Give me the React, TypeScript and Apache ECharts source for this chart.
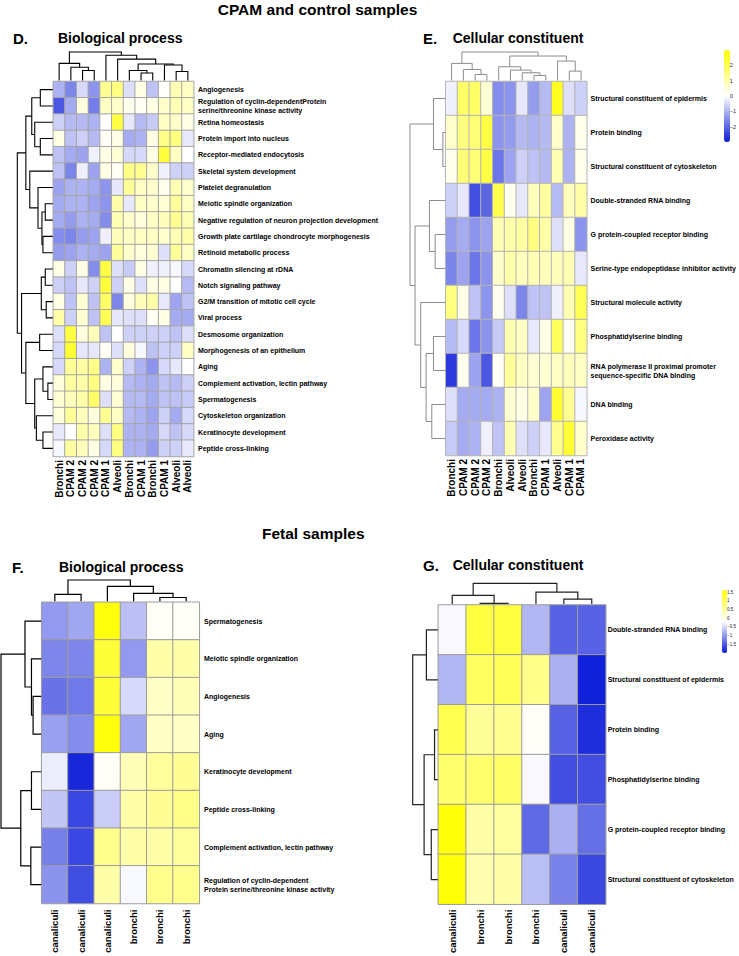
import React, { useEffect, useRef } from 'react';
import * as echarts from 'echarts';

const FONT = '"Liberation Sans", Arial, Helvetica, sans-serif';
const RAMP = ['#0a1ad8', '#ffffff', '#ffff00'];

// ---------- Panel D : CPAM / control, Biological process ----------
const dCols = ['Bronchi', 'CPAM 2', 'CPAM 2', 'CPAM 2', 'CPAM 1', 'Alveoli', 'Bronchi', 'CPAM 1', 'Bronchi', 'CPAM 1', 'Alveoli', 'Alveoli'];
const dRows = [
  'Angiogenesis',
  'Regulation of cyclin-dependentProtein\nserine/threonine kinase activity',
  'Retina homeostasis',
  'Protein import into nucleus',
  'Receptor-mediated endocytosis',
  'Skeletal system development',
  'Platelet degranulation',
  'Meiotic spindle organization',
  'Negative regulation of neuron projection development',
  'Growth plate cartilage chondrocyte morphogenesis',
  'Retinoid metabolic process',
  'Chromatin silencing at rDNA',
  'Notch signaling pathway',
  'G2/M transition of mitotic cell cycle',
  'Viral process',
  'Desmosome organization',
  'Morphogenesis of an epithelium',
  'Aging',
  'Complement activation, lectin pathway',
  'Spermatogenesis',
  'Cytoskeleton organization',
  'Keratinocyte development',
  'Peptide cross-linking',
];
const dValues = [
  [-1.0, -1.6, -0.5, -1.4, 1.3, 1.5, -0.4, 0.3, -0.8, 0.05, 0.9, 0.7],
  [-2.2, -1.1, 0.4, -1.7, 0.7, 0.6, 0.2, 0.1, 0.3, 0.6, 0.9, 0.7],
  [-0.6, -0.9, -0.9, -1.0, 0.0, 2.2, -0.3, -0.9, -0.7, 0.7, 0.6, 0.3],
  [0.3, -0.8, -0.6, -0.9, 0.1, 0.3, -1.1, -1.0, 0.3, 1.4, 1.5, -0.3],
  [-0.8, -1.1, -1.2, -0.2, 0.3, 0.5, -0.5, -0.5, 0.3, 2.3, 0.7, 0.0],
  [-0.8, -1.6, -0.2, -1.2, 0.3, 0.1, 1.4, 1.3, 0.6, -0.2, -0.6, -0.6],
  [-1.2, -1.0, -1.0, -1.1, -1.4, -0.3, 1.2, 0.7, 0.6, 0.2, 0.9, 0.6],
  [-1.1, -1.0, -1.0, -1.2, -1.4, 1.0, -0.3, 0.7, 0.6, 0.5, 1.2, 0.7],
  [-1.1, -1.3, -1.0, -1.1, -1.5, 0.9, 0.6, 0.4, 0.7, 0.8, 1.3, 0.9],
  [-1.5, -1.6, -1.3, -1.2, -0.2, 0.8, 0.7, 0.7, 0.7, 0.6, 0.9, 1.0],
  [-1.3, -1.2, -1.0, -1.1, -1.2, 1.2, 0.6, 0.4, 0.5, -0.4, 1.2, 0.7],
  [0.3, -0.6, 0.3, -1.5, 2.2, -0.4, -0.7, 0.3, -0.2, -0.2, -0.1, -0.5],
  [-0.6, -0.8, -0.3, -0.6, 2.3, -0.6, 0.3, -0.4, 0.3, 0.3, 0.0, -0.9],
  [0.3, -0.8, 0.5, -0.8, 1.8, -1.6, 0.4, 0.8, 1.0, -0.3, -1.2, -0.8],
  [1.0, -0.6, 0.5, -0.8, 2.0, -0.3, -0.4, -0.4, 0.1, 0.3, -1.1, -1.1],
  [-0.4, 2.2, 0.4, 0.8, -0.8, 0.0, -0.6, -0.6, -0.6, -0.6, -0.8, -0.4],
  [-0.5, 2.4, -0.3, -0.3, 0.1, -0.4, 0.4, -0.1, -0.8, -0.6, -0.6, 0.7],
  [-0.5, 1.2, 1.1, 1.4, -1.0, 0.6, -0.6, -1.0, -1.4, -0.5, -0.3, 0.0],
  [0.4, 1.1, 1.0, 1.5, 0.3, 0.4, -0.9, -1.0, -1.1, -0.8, -0.9, -0.6],
  [0.5, 0.8, 1.0, 1.8, -0.4, 0.5, -0.9, -0.9, -1.1, -0.8, -0.8, -0.7],
  [0.4, 1.2, 0.8, 0.4, 1.3, 0.7, -0.9, -1.0, -1.2, -0.6, -1.1, -0.5],
  [-0.3, 0.0, 1.0, 0.8, -0.4, 1.5, -1.0, -1.0, -1.1, -0.5, -0.8, -0.5],
  [-0.1, 1.1, 0.8, 0.3, -0.5, 1.5, -1.0, -1.0, -1.3, -0.6, -0.6, -0.3],
];
// merges: [a, b, height]; negative = leaf (display order, 1-based), positive = earlier merge (1-based)
const dColMerges = [
  [-3, -4, 31], [-2, 1, 41], [-1, 2, 53], [-8, -9, 23], [-7, 4, 31], [-11, -12, 28],
  [-10, 6, 48], [5, 7, 51], [-6, 8, 66], [-5, 9, 78], [3, 10, 88],
];
const dRowMerges = [
  [-1, -2, 38], [-4, -5, 38], [-3, 2, 55], [1, 3, 64], [-8, -9, 23], [-10, -11, 30],
  [5, 6, 33], [-7, 7, 45], [-6, 8, 70], [4, 9, 82], [-12, -13, 23], [-14, -15, 20],
  [11, 12, 35], [-16, -17, 40], [-19, -20, 15], [-18, 15, 30], [-22, -23, 30], [-21, 17, 50],
  [16, 18, 55], [14, 19, 82], [13, 20, 95], [10, 21, 108],
];

// ---------- Panel E : CPAM / control, Cellular constituent ----------
const eCols = ['Bronchi', 'CPAM 2', 'CPAM 2', 'CPAM 2', 'Bronchi', 'Alveoli', 'Alveoli', 'Bronchi', 'CPAM 1', 'Alveoli', 'CPAM 1', 'CPAM 1'];
const eRows = [
  'Structural constituent of epidermis',
  'Protein binding',
  'Structural constituent of cytoskeleton',
  'Double-stranded RNA binding',
  'G protein-coupled receptor binding',
  'Serine-type endopeptidase inhibitor activity',
  'Structural molecule activity',
  'Phosphatidylserine binding',
  'RNA polymerase II proximal promoter\nsequence-specific DNA binding',
  'DNA binding',
  'Peroxidase activity',
];
const eValues = [
  [-0.2, 1.8, 1.8, 0.5, -1.5, -1.4, -0.3, -1.3, -0.9, 2.6, -0.4, -0.6],
  [0.6, 1.5, 1.6, 2.2, -1.4, -1.3, -0.9, -1.0, -0.9, 0.6, -1.0, 0.2],
  [0.2, 1.6, 1.6, 2.2, -1.8, -1.2, -0.6, -0.8, -0.9, 0.9, -1.0, 0.2],
  [-0.6, -0.3, -2.3, -2.0, 2.1, 0.2, -0.3, 0.8, 1.1, -0.9, 0.8, 1.0],
  [-1.3, -1.1, -1.4, -1.2, 0.9, 1.0, 1.1, 1.5, 1.0, -0.4, 0.3, -1.4],
  [-1.6, -1.2, -1.8, -1.4, 0.6, 1.0, 0.8, 0.9, 0.8, 0.8, 0.9, -0.3],
  [1.5, 0.3, -0.8, -1.4, 0.2, -0.4, -1.6, -0.8, -0.8, -0.2, 0.9, 2.0],
  [-0.9, -0.5, -1.8, -1.4, -0.7, 0.9, 0.7, -0.3, 0.3, 1.9, 0.1, 1.5],
  [-2.6, 0.2, -1.2, -2.2, 0.1, 1.2, 0.7, 0.5, 0.5, 0.7, 0.8, 0.7],
  [-0.4, -1.1, -1.1, -1.1, -1.0, 0.5, 0.3, 0.6, -1.2, 2.4, 1.3, -0.1],
  [-0.7, -1.1, -1.0, -0.2, -0.8, 0.9, -0.4, -0.6, -0.3, 1.3, 2.4, 0.6],
];
const eColMerges = [
  [-3, -4, 18], [-2, 1, 33], [-1, 2, 51], [-8, -9, 15], [-7, 4, 23], [-6, 5, 31],
  [-5, 6, 41], [-11, -12, 28], [-10, 8, 58], [7, 9, 73], [3, 10, 85],
];
const eRowMerges = [
  [-2, -3, 7], [-1, 1, 35], [-5, -6, 30], [-4, 3, 47], [-8, -9, 35], [-10, -11, 40],
  [5, 6, 57], [-7, 7, 73], [4, 8, 90], [2, 9, 105],
];
const eLegendTicks = [-2, 2, 1];

// ---------- Panel F : Fetal, Biological process ----------
const fCols = ['canaliculi', 'canaliculi', 'canaliculi', 'bronchi', 'bronchi', 'bronchi'];
const fRows = [
  'Spermatogenesis',
  'Meiotic spindle organization',
  'Angiogenesis',
  'Aging',
  'Keratinocyte development',
  'Peptide cross-linking',
  'Complement activation, lectin pathway',
  'Regulation of cyclin-dependent\nProtein serine/threonine kinase activity',
];
const fValues = [
  [-0.8, -0.7, 1.7, -0.5, 0.05, 0.05],
  [-0.95, -0.95, 1.4, -0.8, 0.6, 0.6],
  [-1.1, -1.05, 1.4, -0.3, 0.4, 0.5],
  [-0.75, -0.9, 1.7, -0.7, 0.4, 0.4],
  [-0.15, -1.7, 0.05, 0.5, 0.7, 0.75],
  [-0.45, -1.45, -0.4, 0.6, 0.75, 0.85],
  [-1.0, -1.45, 0.8, 0.6, 0.6, 0.7],
  [-0.85, -1.4, 0.6, -0.05, 0.8, 0.8],
];
const fColMerges = [[-1, -2, 22], [-5, -6, 12], [-4, 2, 25], [-3, 3, 47], [1, 4, 67]];
const fRowMerges = [[-3, -4, 25], [-2, 1, 30], [-1, 2, 50], [-5, -6, 30], [-7, -8, 32], [4, 5, 63], [3, 6, 124]];

// ---------- Panel G : Fetal, Cellular constituent ----------
const gCols = ['canaliculi', 'bronchi', 'bronchi', 'bronchi', 'canaliculi', 'canaliculi'];
const gRows = [
  'Double-stranded RNA binding',
  'Structural constituent of epidermis',
  'Protein binding',
  'Phosphatidylserine binding',
  'G protein-coupled receptor binding',
  'Structural constituent of cytoskeleton',
];
const gValues = [
  [-0.05, 1.3, 1.3, -0.55, -1.2, -1.2],
  [-0.55, 1.1, 1.15, 0.8, -0.6, -1.7],
  [1.2, 0.7, 0.75, 0.05, -1.2, -1.6],
  [1.0, 1.0, 1.05, -0.05, -1.35, -1.35],
  [1.7, 0.6, 0.65, -1.15, -0.6, -1.1],
  [1.7, 0.55, 0.6, -0.5, -0.95, -1.4],
];
const gColMerges = [[-2, -3, 2], [-1, 1, 27], [-5, -6, 15], [-4, 3, 37], [2, 4, 65]];
const gRowMerges = [[-1, -2, 35], [-3, -4, 10], [-5, -6, 20], [2, 3, 42], [1, 4, 77]];
const gLegendTicks = [-1.5, 1.5, 0.5];

// ---------- helpers ----------
function dendroSegments(merges: number[][]) {
  const pos: number[] = [];
  const hts: number[] = [];
  const out: number[][] = [];
  merges.forEach(([a, b, h], k) => {
    const pa = a < 0 ? -a - 0.5 : pos[a - 1];
    const ha = a < 0 ? 0 : hts[a - 1];
    const pb = b < 0 ? -b - 0.5 : pos[b - 1];
    const hb = b < 0 ? 0 : hts[b - 1];
    pos[k] = (pa + pb) / 2;
    hts[k] = h;
    out.push([pa, ha, pb, hb, h]);
  });
  return out;
}
const rootHeight = (m: number[][]) => m[m.length - 1][2];
const minus = (v: any) => String(v).replace('-', '\u2212');

function buildOption() {
  const grid: any[] = [];
  const xAxis: any[] = [];
  const yAxis: any[] = [];
  const series: any[] = [];
  const visualMap: any[] = [];
  const hidden = { show: false };

  function addPanel(p: any) {
    // heatmap
    let gi = grid.length;
    grid.push({ left: p.hm.left, top: p.hm.top, width: p.hm.width, height: p.hm.height });
    xAxis.push({
      type: 'category', gridIndex: gi, data: p.cols, position: 'bottom',
      axisLine: hidden, axisTick: hidden, splitLine: hidden,
      axisLabel: { interval: 0, rotate: 90, fontSize: p.colFont, fontWeight: 'bold', fontFamily: FONT, color: '#000', margin: p.colMargin },
    });
    yAxis.push({
      type: 'category', gridIndex: gi, data: p.rows, inverse: true, position: 'right',
      axisLine: hidden, axisTick: hidden, splitLine: hidden,
      axisLabel: { interval: 0, fontSize: 7, fontWeight: 'bold', fontFamily: FONT, color: '#000', margin: p.rowMargin, lineHeight: 9 },
    });
    const data: number[][] = [];
    p.values.forEach((row: number[], r: number) => row.forEach((v, c) => data.push([c, r, v])));
    const si = series.length;
    series.push({
      type: 'heatmap', xAxisIndex: gi, yAxisIndex: gi, data, silent: true,
      itemStyle: { borderColor: p.borderColor, borderWidth: 1 },
      emphasis: { disabled: true },
    });
    visualMap.push({ type: 'continuous', seriesIndex: si, min: p.vmin, max: p.vmax, inRange: { color: RAMP }, ...p.vm });

    // column dendrogram
    gi = grid.length;
    grid.push({ left: p.hm.left, width: p.hm.width, top: p.colTop, height: p.hm.top - p.colTop - 1 });
    xAxis.push({ type: 'value', gridIndex: gi, min: 0, max: p.cols.length, show: false });
    yAxis.push({ type: 'value', gridIndex: gi, min: 0, max: rootHeight(p.colMerges), show: false });
    series.push({
      type: 'custom', xAxisIndex: gi, yAxisIndex: gi, silent: true,
      data: dendroSegments(p.colMerges),
      renderItem: (_: any, api: any) => {
        const pa = api.value(0), ha = api.value(1), pb = api.value(2), hb = api.value(3), h = api.value(4);
        return {
          type: 'polyline',
          shape: { points: [api.coord([pa, ha]), api.coord([pa, h]), api.coord([pb, h]), api.coord([pb, hb])] },
          style: { stroke: p.lineColor, lineWidth: p.lineWidth, fill: null },
        };
      },
    });

    // row dendrogram
    gi = grid.length;
    grid.push({ left: p.rowLeft, width: p.hm.left - p.rowLeft - 0.5, top: p.hm.top, height: p.hm.height });
    xAxis.push({ type: 'value', gridIndex: gi, min: 0, max: rootHeight(p.rowMerges), inverse: true, show: false });
    yAxis.push({ type: 'value', gridIndex: gi, min: 0, max: p.rows.length, inverse: true, show: false });
    series.push({
      type: 'custom', xAxisIndex: gi, yAxisIndex: gi, silent: true,
      data: dendroSegments(p.rowMerges),
      renderItem: (_: any, api: any) => {
        const pa = api.value(0), ha = api.value(1), pb = api.value(2), hb = api.value(3), h = api.value(4);
        return {
          type: 'polyline',
          shape: { points: [api.coord([ha, pa]), api.coord([h, pa]), api.coord([h, pb]), api.coord([hb, pb])] },
          style: { stroke: p.lineColor, lineWidth: p.lineWidth, fill: null },
        };
      },
    });
  }

  function addLegendTicks(l: any) {
    const gi = grid.length;
    grid.push({ left: l.left, top: l.top, width: l.width, height: l.height });
    xAxis.push({ type: 'value', gridIndex: gi, min: 0, max: 1, show: false });
    yAxis.push({
      type: 'value', gridIndex: gi, min: l.ticks[0], max: l.ticks[1], interval: l.ticks[2], position: 'right',
      axisLine: hidden, axisTick: hidden, splitLine: hidden,
      axisLabel: { fontSize: l.fontSize, fontFamily: FONT, color: '#222', margin: 2, formatter: minus },
    });
  }

  addPanel({
    cols: dCols, rows: dRows, values: dValues, colMerges: dColMerges, rowMerges: dRowMerges,
    hm: { left: 53.3, top: 81.5, width: 140.4, height: 375 }, colTop: 52, rowLeft: 17.3,
    colFont: 10, colMargin: 3.5, rowMargin: 4.3, borderColor: '#a6a6a6', lineColor: '#000', lineWidth: 1.1,
    vmin: -3, vmax: 3, vm: { show: false },
  });
  addPanel({
    cols: eCols, rows: eRows, values: eValues, colMerges: eColMerges, rowMerges: eRowMerges,
    hm: { left: 445.7, top: 81.5, width: 141.3, height: 374 }, colTop: 52, rowLeft: 410,
    colFont: 10, colMargin: 3.5, rowMargin: 3.7, borderColor: '#b4b4b4', lineColor: '#8c8c8c', lineWidth: 1,
    vmin: -3, vmax: 3,
    vm: { show: true, left: 724, top: 50, itemWidth: 6, itemHeight: 92, padding: 0, calculable: false, hoverLink: false },
  });
  addPanel({
    cols: fCols, rows: fRows, values: fValues, colMerges: fColMerges, rowMerges: fRowMerges,
    hm: { left: 41.7, top: 602.3, width: 157.6, height: 301.2 }, colTop: 580, rowLeft: 1,
    colFont: 9.5, colMargin: 6, rowMargin: 4.7, borderColor: '#9c9c9c', lineColor: '#000', lineWidth: 1.2,
    vmin: -1.8, vmax: 1.8, vm: { show: false },
  });
  addPanel({
    cols: gCols, rows: gRows, values: gValues, colMerges: gColMerges, rowMerges: gRowMerges,
    hm: { left: 438.3, top: 605, width: 167.4, height: 299.5 }, colTop: 583.3, rowLeft: 412.7,
    colFont: 9.5, colMargin: 5.5, rowMargin: 2, borderColor: '#9c9c9c', lineColor: '#222', lineWidth: 1.2,
    vmin: -1.75, vmax: 1.75,
    vm: { show: true, left: 722, top: 590, itemWidth: 5, itemHeight: 63, padding: 0, calculable: false, hoverLink: false },
  });
  addLegendTicks({ left: 724, top: 65.3, width: 6, height: 61.4, ticks: eLegendTicks, fontSize: 5.5 });
  addLegendTicks({ left: 722, top: 592, width: 5, height: 52, ticks: gLegendTicks, fontSize: 4.5 });

  const txt = (x: number, y: number, text: string, size: number, align = 'left') => ({
    type: 'text', x, y, silent: true,
    style: { text, fontSize: size, fontWeight: 'bold', fontFamily: FONT, fill: '#000', align, verticalAlign: 'middle' },
  });

  return {
    animation: false,
    backgroundColor: '#ffffff',
    grid, xAxis, yAxis, series, visualMap,
    graphic: [
      txt(317.5, 9.5, 'CPAM and control samples', 15.5, 'center'),
      txt(13, 38, 'D.', 15),
      txt(58, 38, 'Biological process', 14),
      txt(423, 38, 'E.', 15),
      txt(452.7, 38, 'Cellular constituent', 14),
      txt(262, 533.5, 'Fetal samples', 15.5),
      txt(12, 567, 'F.', 15),
      txt(59, 567, 'Biological process', 14),
      txt(423, 565, 'G.', 15),
      txt(452.7, 565, 'Cellular constituent', 14),
    ],
  };
}

export default function App() {
  const ref = useRef<HTMLDivElement>(null);
  useEffect(() => {
    document.body.style.margin = '0';
    const chart = echarts.init(ref.current as HTMLDivElement, undefined, { renderer: 'svg', width: 739, height: 956 });
    chart.setOption(buildOption() as any);
    return () => chart.dispose();
  }, []);
  return <div ref={ref} style={{ width: 739, height: 956 }} />;
}
